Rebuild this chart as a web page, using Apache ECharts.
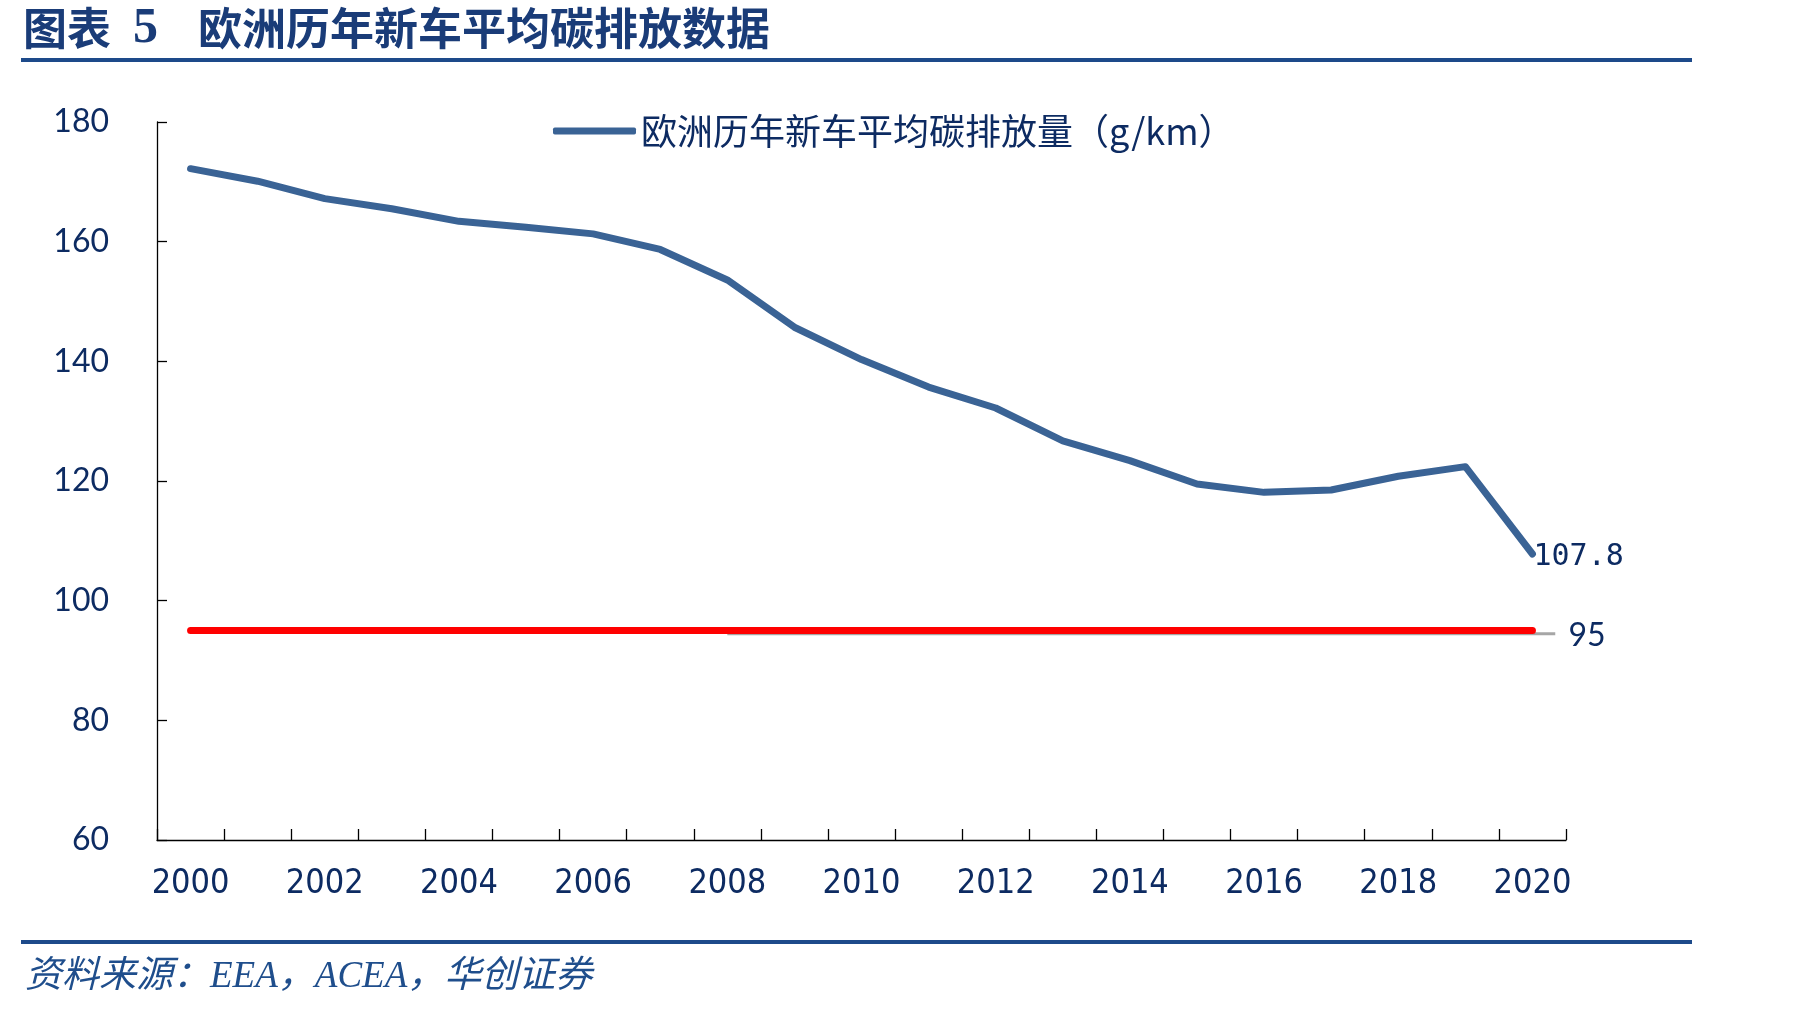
<!DOCTYPE html>
<html><head><meta charset="utf-8">
<script src="https://cdn.jsdelivr.net/npm/echarts@6/dist/echarts.min.js"></script>
<style>html,body{margin:0;padding:0;background:#fff}#c{width:1801px;height:1010px}</style>
</head><body><div id="c"></div>
<script>
// ---- data ----
const years = ['2000','2001','2002','2003','2004','2005','2006','2007','2008','2009','2010',
               '2011','2012','2013','2014','2015','2016','2017','2018','2019','2020'];
const emissions = [172.2,170.1,167.2,165.5,163.4,162.4,161.3,158.7,153.6,145.7,140.3,
                   135.7,132.2,126.7,123.4,119.5,118.1,118.5,120.8,122.4,107.8];
const targetLine = [95,95,95,95,95,95,95,95,95,95,95,95,95,95,95,95,95,95,95,95,95];
const targetLabel = '95';
// grey reference line: [category index, value] pairs
const greyRefX = [8, 20.34];
const greyRefY = [94.45, 94.45];
const yMin = 60, yMax = 180, yStep = 20;
const seriesName = '欧洲历年新车平均碳排放量（g/km）';
const titleLead = '图表';
const titleNum = '5';
const titleText = '欧洲历年新车平均碳排放数据';
const sourceText = '资料来源：EEA，ACEA，华创证券';

const navy = '#0d2b62';
const ruleBlue = '#1d4a8a';

const chart = echarts.init(document.getElementById('c'), null, {renderer: 'canvas'});
chart.setOption({
  animation: false,
  backgroundColor: '#fff',
  grid: {left: 157, right: 235, top: 122, bottom: 170},
  legend: {
    data: [seriesName], left: 548, top: 108, icon: 'roundRect',
    itemWidth: 83, itemHeight: 7, itemGap: 12,
    textStyle: {color: navy, fontSize: 36, fontFamily: 'Noto Sans CJK SC'}
  },
  xAxis: [{
    type: 'category', data: years, boundaryGap: true,
    axisLine: {onZero: false, lineStyle: {color: '#000', width: 1.3}},
    axisTick: {show: true, inside: true, length: 11, interval: 0, lineStyle: {color: '#000', width: 1.3}},
    axisLabel: {interval: 1, margin: 27, color: navy, fontSize: 34, fontFamily: '"DejaVu Sans Condensed", "DejaVu Sans"'},
    splitLine: {show: false}
  }, {
    type: 'value', min: -0.5, max: 20.5, show: false
  }],
  yAxis: {
    type: 'value', min: yMin, max: yMax, interval: yStep,
    splitLine: {show: false},
    axisLine: {show: true, onZero: false, lineStyle: {color: '#000', width: 1.3}},
    axisTick: {show: true, inside: true, length: 10, lineStyle: {color: '#000', width: 1.3}},
    axisLabel: {margin: 48, color: navy, fontSize: 32, fontFamily: 'Lato'}
  },
  series: [{
    name: seriesName, type: 'line', data: emissions, symbol: 'none', z: 4,
    lineStyle: {color: '#3a6395', width: 7, cap: 'round', join: 'round'},
    itemStyle: {color: '#3a6395'},
    endLabel: {show: true, formatter: p => String(p.value), distance: 1, offset: [0, 3],
      color: navy, fontSize: 30, fontFamily: 'DejaVu Sans Mono'}
  }, {
    name: 'target', type: 'line', data: targetLine, symbol: 'none', z: 3,
    lineStyle: {color: '#ff0000', width: 7, cap: 'round'},
    endLabel: {show: true, formatter: () => targetLabel, distance: 36, offset: [0, 5],
      color: navy, fontSize: 32, fontFamily: 'Lato'}
  }, {
    name: 'ref', type: 'line', xAxisIndex: 1, symbol: 'none', z: 2,
    data: greyRefX.map((x, i) => [x, greyRefY[i]]),
    lineStyle: {color: '#a6a6a6', width: 3}
  }],
  graphic: [
    {type: 'text', x: 23, y: 28, style: {text: titleLead, fill: '#1a3c78',
      font: 'bold 44px "Noto Sans CJK SC"', textVerticalAlign: 'middle'}},
    {type: 'text', x: 133, y: 29, style: {text: titleNum, fill: '#1a3c78',
      font: 'bold 50px "Liberation Serif"', textVerticalAlign: 'middle'}},
    {type: 'text', x: 198, y: 28, style: {text: titleText, fill: '#1a3c78',
      font: 'bold 44px "Noto Sans CJK SC"', textVerticalAlign: 'middle'}},
    {type: 'rect', shape: {x: 21, y: 58, width: 1671, height: 4}, style: {fill: ruleBlue}},
    {type: 'rect', shape: {x: 21, y: 940, width: 1671, height: 4}, style: {fill: ruleBlue}},
    {type: 'text', x: 25, y: 977, style: {text: sourceText, fill: '#1f4e8c',
      font: 'italic 37px "Liberation Serif", "Noto Sans CJK SC"', textVerticalAlign: 'middle'}}
  ]
});
</script></body></html>
